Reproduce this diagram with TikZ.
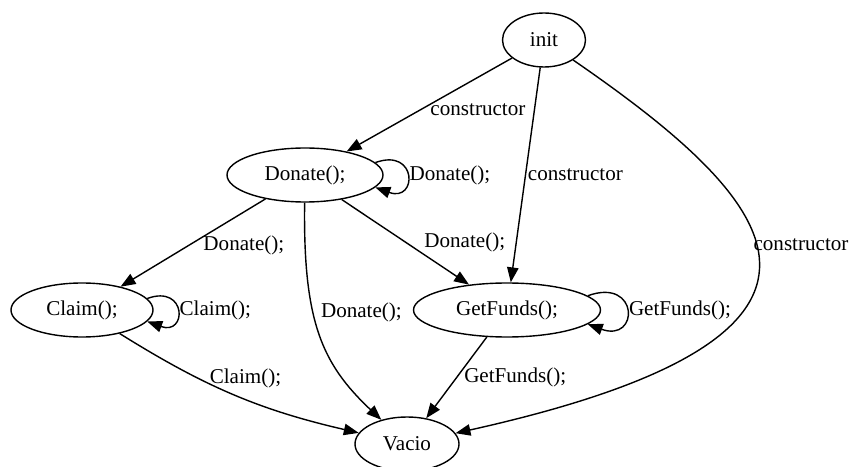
\documentclass[tikz,border=0pt]{standalone}
\usepackage{fontspec}
\setmainfont{Liberation Serif}
\usetikzlibrary{arrows.meta,shapes.geometric}
\tikzset{
  >={Triangle[length=8.5pt,width=6.5pt]},
  % estados
  st/.style={ellipse,draw=black,line width=0.8pt,inner sep=0pt,
             minimum height=1.08cm,font=\fontsize{12}{14}\selectfont},
  tr/.style={->,draw=black,line width=0.8pt},
  tl/.style={font=\fontsize{12}{14}\selectfont,inner sep=1pt},
}
\begin{document}
\begin{tikzpicture}
\useasboundingbox (0,0) rectangle (17,9.32);
  \node[st,minimum width=1.66cm] (init) at (10.88,8.52) {init};
  \node[st,minimum width=3.12cm] (donate) at (6.10,5.82) {Donate();};
  \node[st,minimum width=2.84cm] (claim) at (1.64,3.12) {Claim();};
  \node[st,minimum width=3.74cm] (getfunds) at (10.14,3.12) {GetFunds();};
  \node[st,minimum width=2.08cm] (vacio) at (8.14,0.44) {Vacio};
  % transiciones
  \draw[tr] (init) -- node[tl,pos=0.46,anchor=north west,xshift=-4.5pt] {constructor} (donate);
  \draw[tr] (init) -- node[tl,pos=0.5,anchor=west] {constructor} (getfunds);
  \draw[tr] (init) .. controls (15.62,5.26) and (17.94,2.62) .. node[tl,pos=0.45,anchor=west,xshift=-2.5pt] {constructor} (vacio);
  \draw[tr] (donate.10) .. controls +(20:0.9) and +(-20:0.9) .. node[tl,anchor=west] {Donate();} (donate.-10);
  \draw[tr] (donate) -- node[tl,pos=0.39,anchor=north west,xshift=-4.5pt] {Donate();} (claim);
  \draw[tr] (donate) -- node[tl,pos=0.63,anchor=south west,yshift=-1pt] {Donate();} (getfunds);
  \draw[tr] (donate) .. controls (6.06,2.88) and (6.44,2.04) .. node[tl,pos=0.39,anchor=west,xshift=3pt] {Donate();} (vacio);
  \draw[tr] (claim.10) .. controls +(20:0.85) and +(-20:0.85) .. node[tl,anchor=west] {Claim();} (claim.-10);
  \draw[tr] (claim) to[out=-32,in=167] node[tl,pos=0.55,above=5pt] {Claim();} (vacio);
  \draw[tr] (getfunds.10) .. controls +(20:1.1) and +(-20:1.1) .. node[tl,anchor=west] {GetFunds();} (getfunds.-10);
  \draw[tr] (getfunds) -- node[tl,pos=0.5,anchor=west,xshift=3pt] {GetFunds();} (vacio);
\end{tikzpicture}
\end{document}
